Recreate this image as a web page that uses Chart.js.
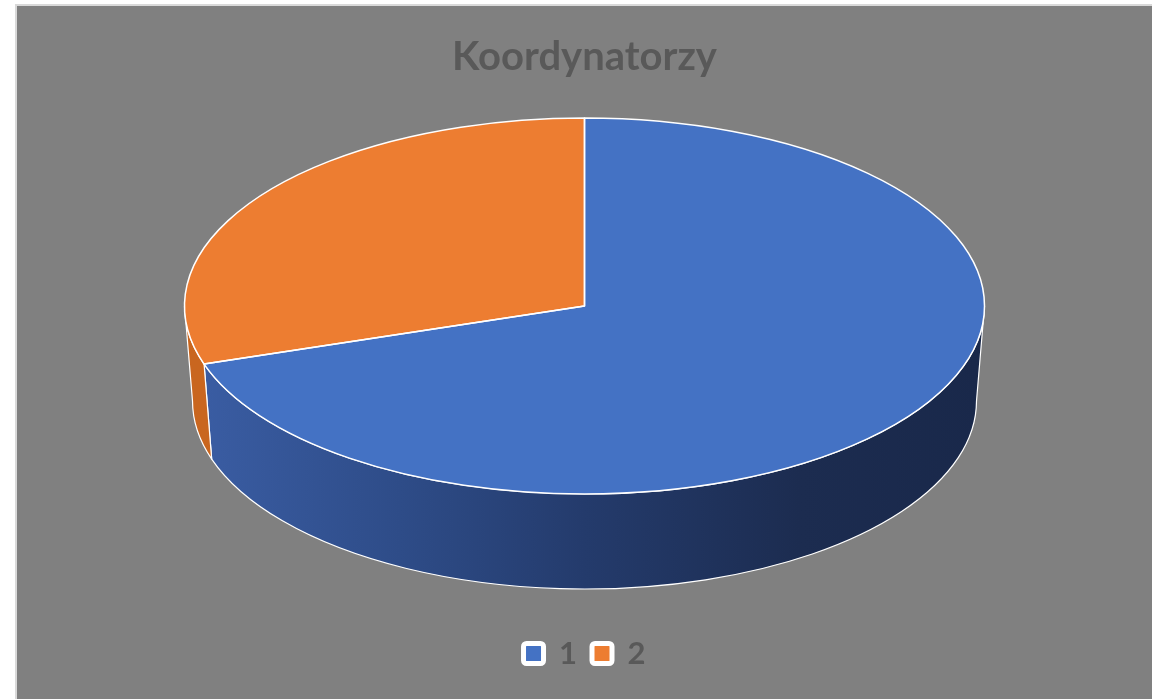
<!DOCTYPE html>
<html><head><meta charset="utf-8">
<script src="https://cdn.jsdelivr.net/npm/chart.js@4.4.0/dist/chart.umd.min.js"></script>
<style>
html,body{margin:0;padding:0;background:#fff;width:1152px;height:699px;overflow:hidden}
#frame{position:absolute;left:15px;top:4px;width:1137px;height:695px;border-left:2px solid #d9d9d9;border-top:2px solid #d9d9d9;background:#808080}
#wrap{position:absolute;left:17px;top:6px;width:1135px;height:693px}
</style></head><body>
<div id="frame"></div>
<div id="wrap"><canvas id="c"></canvas></div>
<script>
// ---- data ----
const categories = ['1', '2'];
const values = [70, 30];
const chartTitle = 'Koordynatorzy';

// ---- styles ----
const topColors = ['#4472C4', '#ED7D31'];
const sideStops = [
  [[0, '#3b5ea5'], [0.27, '#2e4c88'], [0.5, '#243b6c'], [0.77, '#1c2c50'], [1, '#19284a']],
  [[0, '#c9661f'], [1, '#c9661f']]
];
const GEOM = { rx: 400, ry: 188, depth: 95, rxBottom: 392 };

function pieTransform(ctx, chart, arc) {
  const p = chart.$pie;
  ctx.translate(p.cx, p.cy);
  ctx.scale(GEOM.rx / arc.outerRadius, GEOM.ry / arc.outerRadius);
  ctx.translate(-arc.x, -arc.y);
}

const pie3d = {
  id: 'pie3d',
  beforeDatasetsDraw(chart) {
    const ctx = chart.ctx, ca = chart.chartArea;
    const meta = chart.getDatasetMeta(0);
    const cx = (ca.left + ca.right) / 2, cy = ca.top + GEOM.ry;
    chart.$pie = { cx, cy };
    // side walls (front half only)
    meta.data.forEach((arc, i) => {
      const ranges = [[0, Math.PI], [2 * Math.PI, 3 * Math.PI]];
      ranges.forEach(([lo, hi]) => {
        const s = Math.max(arc.startAngle, lo), e = Math.min(arc.endAngle, hi);
        if (e <= s) return;
        const g = ctx.createLinearGradient(cx - GEOM.rx, 0, cx + GEOM.rx, 0);
        sideStops[i % sideStops.length].forEach(([o, c]) => g.addColorStop(o, c));
        ctx.save();
        ctx.beginPath();
        ctx.ellipse(cx, cy, GEOM.rx, GEOM.ry, 0, s, e, false);
        ctx.ellipse(cx, cy + GEOM.depth, GEOM.rxBottom, GEOM.ry, 0, e, s, true);
        ctx.closePath();
        ctx.fillStyle = g;
        ctx.fill();
        ctx.strokeStyle = '#ffffff';
        ctx.lineWidth = 1.2;
        ctx.lineJoin = 'round';
        ctx.stroke();
        ctx.restore();
      });
    });
    ctx.save();
    pieTransform(ctx, chart, meta.data[0]);
  },
  afterDatasetsDraw(chart) {
    const ctx = chart.ctx;
    ctx.restore();
    const meta = chart.getDatasetMeta(0);
    meta.data.forEach(arc => {
      ctx.save();
      pieTransform(ctx, chart, arc);
      ctx.beginPath();
      ctx.moveTo(arc.x, arc.y);
      ctx.arc(arc.x, arc.y, arc.outerRadius, arc.startAngle, arc.endAngle);
      ctx.closePath();
      ctx.restore();
      ctx.save();
      ctx.strokeStyle = '#ffffff';
      ctx.lineWidth = 1.5;
      ctx.lineJoin = 'round';
      ctx.stroke();
      ctx.restore();
    });
  }
};

const baseGen = (Chart.overrides.pie && Chart.overrides.pie.plugins && Chart.overrides.pie.plugins.legend)
  ? Chart.overrides.pie.plugins.legend.labels.generateLabels
  : Chart.overrides.doughnut.plugins.legend.labels.generateLabels;

new Chart(document.getElementById('c'), {
  type: 'pie',
  data: {
    labels: categories,
    datasets: [{
      data: values,
      backgroundColor: topColors,
      borderColor: '#ffffff',
      borderWidth: 0,
      clip: false
    }]
  },
  options: {
    responsive: true,
    maintainAspectRatio: false,
    animation: false,
    layout: { padding: { bottom: 20 } },
    plugins: {
      title: {
        display: true,
        text: chartTitle,
        color: '#595959',
        font: { family: 'Lato', size: 40, weight: 'bold' },
        padding: { top: 27, bottom: 37 }
      },
      legend: {
        position: 'bottom',
        labels: {
          color: '#595959',
          font: { family: 'Lato', size: 31, weight: 'bold' },
          boxWidth: 20,
          boxHeight: 20,
          padding: 15,
          useBorderRadius: true,
          borderRadius: 3,
          generateLabels(chart) {
            const items = baseGen(chart);
            items.forEach(it => { it.strokeStyle = '#ffffff'; it.lineWidth = 5; it.borderRadius = 3; });
            return items;
          }
        }
      },
      tooltip: { enabled: false }
    }
  },
  plugins: [pie3d]
});
</script>
</body></html>
